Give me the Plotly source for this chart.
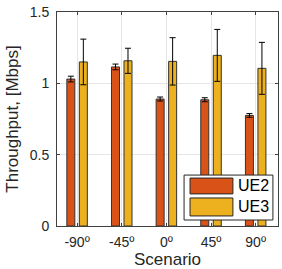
import plotly.graph_objects as go

categories = ["-90º", "-45º", "0º", "45º", "90º"]
series_names = ["UE2", "UE3"]
ue2_values = [1.03, 1.115, 0.89, 0.885, 0.775]
ue2_errors = [0.02, 0.02, 0.014, 0.014, 0.013]
ue3_values = [1.15, 1.158, 1.154, 1.196, 1.105]
ue3_errors = [0.16, 0.088, 0.166, 0.182, 0.182]
colors = ["#D95319", "#EDB120"]
y_ticks = [0, 0.5, 1, 1.5]

TXT = "#262626"
FONT = "Liberation Sans, Arial, Helvetica, sans-serif"

fig = go.Figure()
for name, vals, errs, col in [
    (series_names[0], ue2_values, ue2_errors, colors[0]),
    (series_names[1], ue3_values, ue3_errors, colors[1]),
]:
    fig.add_trace(go.Bar(
        x=list(range(len(categories))), y=vals, name=name,
        marker=dict(color=col, line=dict(color="#333333", width=1)),
        error_y=dict(type="data", array=errs, visible=True, color="#000000",
                     thickness=1, width=3),
        showlegend=False,
    ))

# manual MATLAB-style legend
fig.add_shape(type="rect", xref="paper", yref="paper", x0=0.575, x1=0.977,
              y0=0.028, y1=0.238, line=dict(color="#262626", width=1),
              fillcolor="white", layer="above")
sw_y = [(0.150, 0.224), (0.047, 0.131)]
for (y0, y1), col, name in zip(sw_y, colors, series_names):
    fig.add_shape(type="rect", xref="paper", yref="paper", x0=0.602, x1=0.796,
                  y0=y0, y1=y1, line=dict(color="#262626", width=1),
                  fillcolor=col, layer="above")
    fig.add_annotation(xref="paper", yref="paper", x=0.812, y=(y0 + y1) / 2,
                       text=name, showarrow=False, xanchor="left",
                       yanchor="middle", font=dict(size=16, color="#000000", family=FONT))

fig.update_layout(
    width=282, height=269,
    margin=dict(l=57, r=4, t=12, b=43, autoexpand=False),
    paper_bgcolor="white", plot_bgcolor="white",
    barmode="group", bargap=0.44, bargroupgap=0.36,
    font=dict(family=FONT, color=TXT, size=14),
)
fig.update_xaxes(
    tickmode="array", tickvals=list(range(len(categories))), ticktext=categories,
    range=[-0.45, 4.5], showgrid=True, gridcolor="#e6e6e6",
    showline=True, linecolor="#404040", linewidth=1, mirror="allticks",
    ticks="inside", ticklen=3, tickcolor="#404040",
    tickfont=dict(size=14, color=TXT), ticklabelstandoff=3,
    title=dict(text="Scenario", font=dict(size=17, color=TXT), standoff=4),
    zeroline=False, automargin=False,
)
fig.update_yaxes(
    tickmode="array", tickvals=y_ticks, ticktext=["0", "0.5", "1", "1.5"],
    range=[0, 1.5], showgrid=True, gridcolor="#e6e6e6",
    showline=True, linecolor="#404040", linewidth=1, mirror="allticks",
    ticks="inside", ticklen=3, tickcolor="#404040",
    tickfont=dict(size=14, color=TXT), ticklabelstandoff=4,
    title=dict(text="Throughput, [Mbps]", font=dict(size=17, color=TXT), standoff=6),
    zeroline=False, automargin=False,
)

fig.write_html("out.html", config={"displayModeBar": False},
               post_script="document.body.style.margin='0';")
